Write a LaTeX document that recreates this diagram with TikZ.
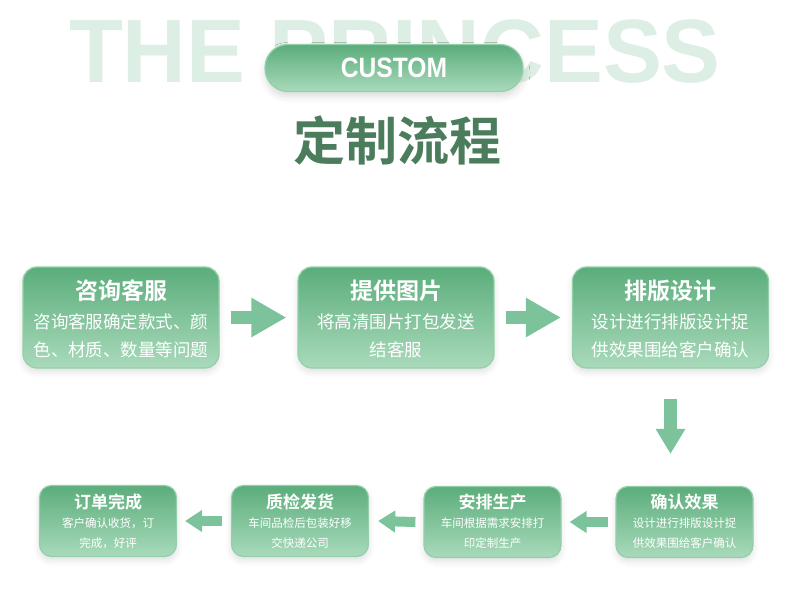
\documentclass[tikz,border=0pt]{standalone}
\usepackage{fontspec}
\setmainfont{Liberation Sans}
\newfontfamily\cjk{Noto Sans CJK SC}
\newfontfamily\cjkbold{Noto Sans CJK SC Bold}
\usetikzlibrary{arrows.meta,shadows.blur}
\definecolor{boxtop}{HTML}{5BAD7B}
\definecolor{boxbottom}{HTML}{A9DABB}
\definecolor{boxline}{HTML}{93D0A9}
\definecolor{arrowgreen}{HTML}{7CC39B}
\definecolor{titlegreen}{HTML}{4B7D5C}
\definecolor{ghost}{HTML}{DDEFE5}
\begin{document}
\begin{tikzpicture}[
            x=1pt, y=-1pt,
            stepcard/.style={draw=boxline, line width=1.2pt, rounded corners=14pt,
                top color=boxtop, bottom color=boxbottom,
                blur shadow={shadow xshift=0pt, shadow yshift=-4pt, shadow opacity=12, shadow blur radius=6pt}},
            bigcard/.style={stepcard, minimum width=196pt, minimum height=101pt},
            smallcard/.style={stepcard, rounded corners=12pt, minimum width=137pt, minimum height=71pt},
            cardtext/.style={text=white, align=center, inner sep=0pt},
            flowarrow/.style={draw=arrowgreen, line width=13pt, -{Triangle[length=35pt, width=37pt]}, arrowgreen},
            backarrow/.style={draw=arrowgreen, line width=10pt, -{Triangle[length=17pt, width=21pt]}, arrowgreen}
            ]
        \useasboundingbox (0,0) rectangle (790,607);
        % heading
        \node[text=ghost, font=\bfseries\fontsize{90}{90}\selectfont, xscale=0.98] (ghost) at (395,52) {THE PRINCESS};
        \node[draw=boxline, line width=1.2pt, rounded corners=23pt, minimum width=258pt, minimum height=47pt,
            top color=boxtop, bottom color=boxbottom,
            blur shadow={shadow xshift=0pt, shadow yshift=-5pt, shadow opacity=14, shadow blur radius=7pt}] (pill) at (394,68) {};
        \node[text=white, font=\bfseries\fontsize{28}{28}\selectfont, xscale=0.88] (custom) at (394,68) {CUSTOM};
        \node[text=titlegreen, font=\cjkbold\fontsize{52}{52}\selectfont] (title) at (397,141) {定制流程};
        % first row
        \node[bigcard] (consult) at (121,317.5) {};
        \node[bigcard] (picture) at (396,317.5) {};
        \node[bigcard] (layout) at (670.5,317.5) {};
        \node[cardtext, font=\cjkbold\fontsize{23}{23}\selectfont] at (121,291) {咨询客服};
        \node[cardtext, font=\cjk\fontsize{17.5}{28}\selectfont] at (121,336) {咨询客服确定款式、颜\\色、材质、数量等问题};
        \node[cardtext, font=\cjkbold\fontsize{23}{23}\selectfont] at (396,291) {提供图片};
        \node[cardtext, font=\cjk\fontsize{17.5}{28}\selectfont] at (396,336) {将高清围片打包发送\\结客服};
        \node[cardtext, font=\cjkbold\fontsize{23}{23}\selectfont] at (670.5,291) {排版设计};
        \node[cardtext, font=\cjk\fontsize{17.5}{28}\selectfont] at (670.5,336) {设计进行排版设计捉\\供效果围给客户确认};
        % second row
        \node[smallcard] (confirm) at (684.5,522) {};
        \node[smallcard] (produce) at (492.5,522) {};
        \node[smallcard] (inspect) at (300,521) {};
        \node[smallcard] (finish) at (108,521) {};
        \node[cardtext, font=\cjkbold\fontsize{17}{17}\selectfont] at (684.5,502) {确认效果};
        \node[cardtext, font=\cjk\fontsize{11.5}{20}\selectfont] at (684.5,533) {设计进行排版设计捉\\供效果围给客户确认};
        \node[cardtext, font=\cjkbold\fontsize{17}{17}\selectfont] at (492.5,502) {安排生产};
        \node[cardtext, font=\cjk\fontsize{11.5}{20}\selectfont] at (492.5,533) {车间根据需求安排打\\印定制生产};
        \node[cardtext, font=\cjkbold\fontsize{17}{17}\selectfont] at (300,502) {质检发货};
        \node[cardtext, font=\cjk\fontsize{11.5}{20}\selectfont] at (300,533) {车间品检后包装好移\\交快递公司};
        \node[cardtext, font=\cjkbold\fontsize{17}{17}\selectfont] at (108,502) {订单完成};
        \node[cardtext, font=\cjk\fontsize{11.5}{20}\selectfont] at (108,533) {客户确认收货，订\\完成，好评};
        % arrows
        \draw[flowarrow] ([xshift=11pt]consult.east) -- ([xshift=-11pt]picture.west);
        \draw[flowarrow] ([xshift=11pt]picture.east) -- ([xshift=-11pt]layout.west);
        \draw[draw=arrowgreen, line width=13pt, -{Triangle[length=25pt, width=28pt]}]
            ([yshift=-30pt]layout.south) -- ([yshift=32pt]layout.south |- confirm.north);
        \draw[backarrow] ([xshift=-7pt]confirm.west) -- ([xshift=8pt]produce.east);
        \draw[backarrow] ([xshift=-8pt]produce.west) -- ([xshift=9pt]inspect.east);
        \draw[backarrow] ([xshift=-9pt]inspect.west) -- ([xshift=8pt]finish.east);
\end{tikzpicture}
\end{document}
